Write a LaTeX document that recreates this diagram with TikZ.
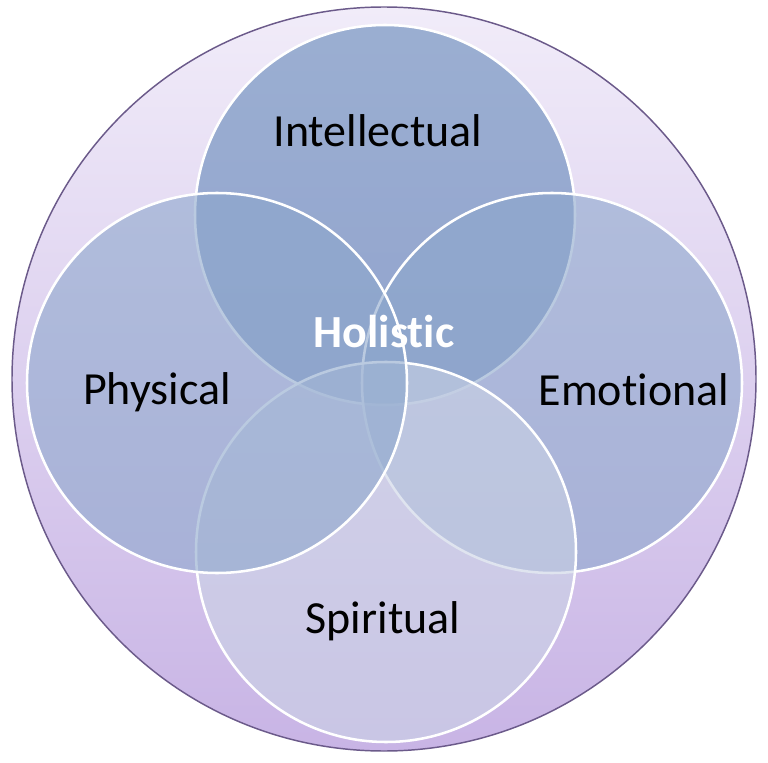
\documentclass[tikz,border=0pt]{standalone}
\usepackage{fontspec}
\setmainfont{Carlito}[RawFeature={-liga;-clig;-dlig;-rlig;-calt}]
\usepackage{tikz}
\definecolor{intelblue}{RGB}{98,135,184}
\definecolor{sideblue}{RGB}{141,167,204}
\definecolor{paleblue}{RGB}{202,210,229}
\definecolor{lavtop}{RGB}{241,236,249}
\definecolor{lavbot}{RGB}{200,180,229}
\definecolor{rimpurple}{RGB}{107,90,138}

\begin{document}
\begin{tikzpicture}[x=0.75pt,y=0.75pt,yscale=-1,xscale=1,
  venn/.style={circle,minimum size=285pt,inner sep=0pt,draw=white,line width=1.9pt,fill opacity=0.6,draw opacity=1},
  venntext/.style={font=\fontsize{34.5}{41}\selectfont,text=black,inner sep=0pt,anchor=base}]
\useasboundingbox (0,0) rectangle (768,763); %diagram is 768 by 763
% Outer Circle
\node [circle,minimum size=558pt,inner sep=0pt,top color=lavtop,bottom color=lavbot,draw=rimpurple,line width=1.1pt] (whole) at (384,379) {};
% Circles
\node [venn,fill=intelblue] (intel) at (385,215) {};
\node [venn,fill=sideblue] (emot) at (552,383) {};
\node [venn,fill=paleblue] (spirit) at (386,552) {};
\node [venn,fill=sideblue] (phys) at (217,383) {};
% Text Node
\node [venntext] (inteltext) at (378,147) {Intellectual};
% Text Node
\node [venntext] (phystext) at (157,404) {Physical};
% Text Node
\node [venntext] (emottext) at (634,405) {Emotional};
% Text Node
\node [venntext] (spirittext) at (383,633) {Spiritual};
% Text Node
\node [venntext,font=\fontsize{34.5}{41}\selectfont\bfseries,text=white] (holtext) at (384,347) {Holistic};
\end{tikzpicture}
\end{document}
